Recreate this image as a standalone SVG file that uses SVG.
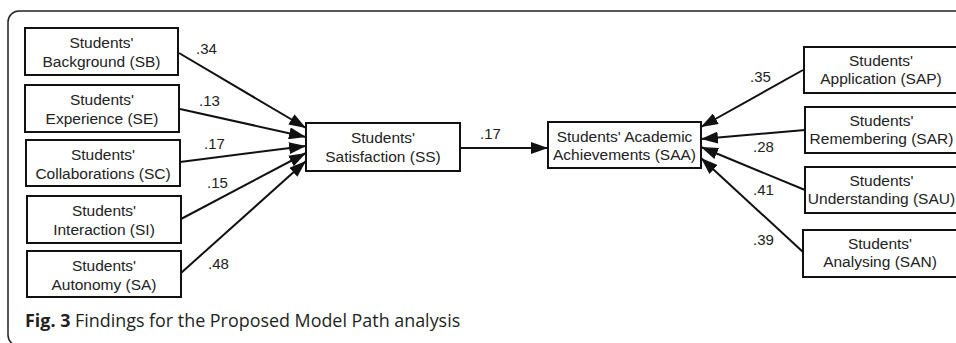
<svg xmlns="http://www.w3.org/2000/svg" width="956" height="343" viewBox="0 0 956 343">
<style>
.box{fill:#fff;stroke:#111;stroke-width:2}
.t{font-size:15.5px;fill:#222;text-anchor:middle}
.l{font-size:15px;fill:#222}
.c{stroke:#111;stroke-width:2;fill:none;marker-end:url(#ah)}
.cap{font-size:17.9px;fill:#231f20}
</style>
<defs>
<marker id="ah" markerUnits="userSpaceOnUse" markerWidth="18" markerHeight="12" refX="17" refY="6" orient="auto">
<path d="M0,0 L17,6 L0,12 Z" fill="#111"/>
</marker>
</defs>
<rect x="8" y="11" width="1000" height="335" rx="11" fill="#fff" stroke="#222" stroke-width="1.5"/>
<g id="connectors" font-family="Liberation Sans, Arimo, sans-serif">
<line class="c" x1="179" y1="53" x2="306" y2="128"/>
<line class="c" x1="180" y1="109" x2="306" y2="137"/>
<line class="c" x1="180" y1="162" x2="306" y2="146"/>
<line class="c" x1="181" y1="219" x2="306" y2="153"/>
<line class="c" x1="181" y1="273" x2="306" y2="161"/>
<line class="c" x1="460" y1="148" x2="548" y2="148"/>
<line class="c" x1="803" y1="70" x2="701" y2="127"/>
<line class="c" x1="805" y1="130" x2="701" y2="139"/>
<line class="c" x1="805" y1="190" x2="701" y2="147"/>
<line class="c" x1="803" y1="252" x2="701" y2="158"/>
<text class="l" x="196" y="54">.34</text>
<text class="l" x="199" y="106">.13</text>
<text class="l" x="204" y="149">.17</text>
<text class="l" x="207" y="188">.15</text>
<text class="l" x="208" y="269">.48</text>
<text class="l" x="480" y="139">.17</text>
<text class="l" x="750" y="82">.35</text>
<text class="l" x="753" y="152">.28</text>
<text class="l" x="753" y="195">.41</text>
<text class="l" x="753" y="245">.39</text>
</g>
<g font-family="Liberation Sans, Arimo, sans-serif">
<g id="SB"><rect class="box" x="25" y="28" width="153" height="47"/><text class="t" x="101.5" y="48">Students'</text><text class="t" x="101.5" y="67">Background (SB)</text></g>
<g id="SE"><rect class="box" x="25" y="85" width="154" height="47"/><text class="t" x="102" y="105">Students'</text><text class="t" x="102" y="124">Experience (SE)</text></g>
<g id="SC"><rect class="box" x="26" y="140" width="154" height="46"/><text class="t" x="103" y="160">Students'</text><text class="t" x="103" y="179">Collaborations (SC)</text></g>
<g id="SI"><rect class="box" x="27" y="196" width="154" height="47"/><text class="t" x="104" y="216">Students'</text><text class="t" x="104" y="235">Interaction (SI)</text></g>
<g id="SA"><rect class="box" x="27" y="251" width="154" height="46"/><text class="t" x="104" y="271">Students'</text><text class="t" x="104" y="290">Autonomy (SA)</text></g>
<g id="SS"><rect class="box" x="306" y="123" width="154" height="48"/><text class="t" x="383" y="143">Students'</text><text class="t" x="383" y="162">Satisfaction (SS)</text></g>
<g id="SAA"><rect class="box" x="548" y="122" width="153" height="46"/><text class="t" x="624.5" y="142">Students' Academic</text><text class="t" x="624.5" y="160">Achievements (SAA)</text></g>
<g id="SAP"><rect class="box" x="804" y="47" width="156" height="46"/><text class="t" x="881" y="66">Students'</text><text class="t" x="881" y="84">Application (SAP)</text></g>
<g id="SAR"><rect class="box" x="805" y="107" width="156" height="46"/><text class="t" x="881.5" y="126">Students'</text><text class="t" x="881.5" y="144">Remembering (SAR)</text></g>
<g id="SAU"><rect class="box" x="805" y="167" width="156" height="46"/><text class="t" x="881.5" y="186">Students'</text><text class="t" x="881.5" y="204">Understanding (SAU)</text></g>
<g id="SAN"><rect class="box" x="803" y="230" width="156" height="47"/><text class="t" x="880" y="249">Students'</text><text class="t" x="880" y="267">Analysing (SAN)</text></g>
</g>
<text class="cap" x="25" y="327" font-family="Open Sans, Noto Sans, sans-serif"><tspan font-weight="bold">Fig. 3</tspan> Findings for the Proposed Model Path analysis</text>
</svg>
